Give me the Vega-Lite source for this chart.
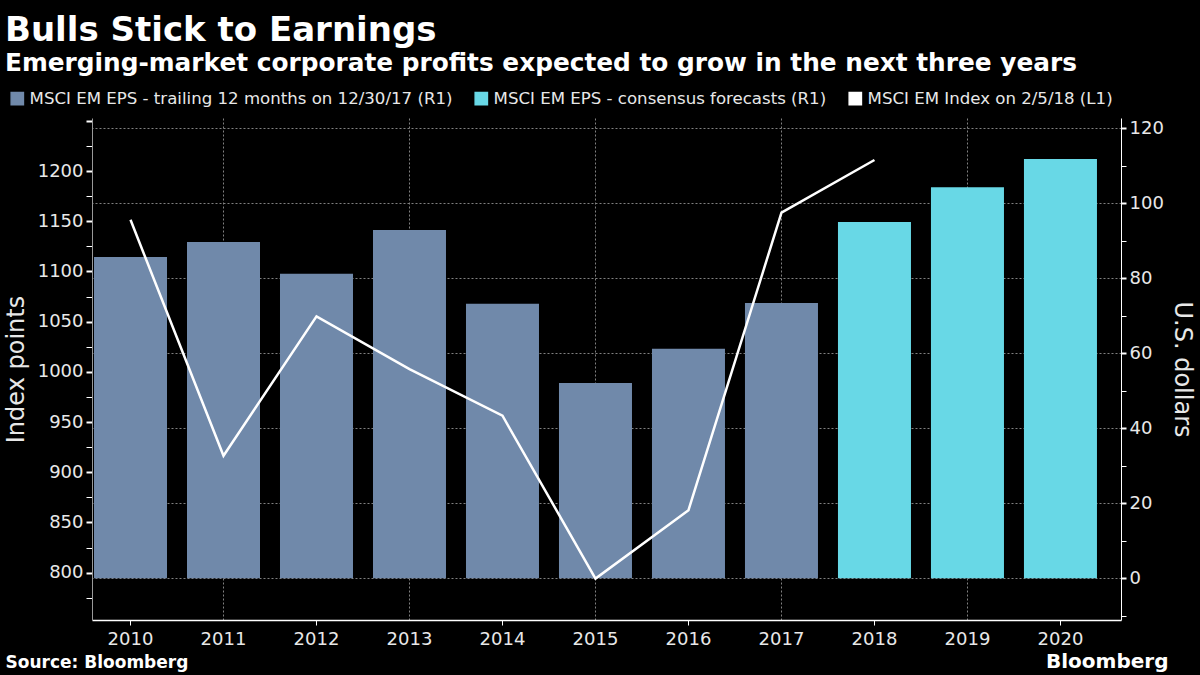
{
  "$schema": "https://vega.github.io/schema/vega-lite/v6.json",
  "width": 1029,
  "height": 502,
  "autosize": "none",
  "padding": {"left": 92, "top": 118, "right": 79, "bottom": 55},
  "background": "#000000",
  "config": {
    "view": {"stroke": null},
    "font": "DejaVu Sans",
    "axis": {
      "labelFont": "DejaVu Sans",
      "titleFont": "DejaVu Sans",
      "labelColor": "#e8e8e8",
      "titleColor": "#e8e8e8",
      "labelFontSize": 18,
      "titleFontSize": 24,
      "titleFontWeight": "normal",
      "tickColor": "#ffffff"
    },
    "legend": {
      "orient": "none",
      "legendX": -83,
      "legendY": -28,
      "direction": "horizontal",
      "symbolType": "square",
      "symbolSize": 150,
      "labelFont": "DejaVu Sans",
      "labelFontSize": 16.6,
      "labelColor": "#e8e8e8",
      "labelLimit": 0,
      "columnPadding": 19,
      "labelOffset": 4,
      "padding": 0
    }
  },
  "title": {
    "text": "Bulls Stick to Earnings",
    "subtitle": "Emerging-market corporate profits expected to grow in the next three years",
    "anchor": "start",
    "frame": "group",
    "dx": -87,
    "offset": 14,
    "font": "DejaVu Sans",
    "fontSize": 34,
    "fontWeight": "bold",
    "color": "#ffffff",
    "subtitleFont": "DejaVu Sans",
    "subtitleFontSize": 24.8,
    "subtitleFontWeight": "bold",
    "subtitleColor": "#ffffff",
    "subtitlePadding": 3
  },
  "data": {
    "values": [
      {"year": "2010", "eps": 85.7, "series": "MSCI EM EPS - trailing 12 months on 12/30/17 (R1)", "index": 1151.4},
      {"year": "2011", "eps": 89.7, "series": "MSCI EM EPS - trailing 12 months on 12/30/17 (R1)", "index": 916.4},
      {"year": "2012", "eps": 81.2, "series": "MSCI EM EPS - trailing 12 months on 12/30/17 (R1)", "index": 1055.2},
      {"year": "2013", "eps": 92.9, "series": "MSCI EM EPS - trailing 12 months on 12/30/17 (R1)", "index": 1002.7},
      {"year": "2014", "eps": 73.2, "series": "MSCI EM EPS - trailing 12 months on 12/30/17 (R1)", "index": 956.3},
      {"year": "2015", "eps": 52.1, "series": "MSCI EM EPS - trailing 12 months on 12/30/17 (R1)", "index": 794.1},
      {"year": "2016", "eps": 61.2, "series": "MSCI EM EPS - trailing 12 months on 12/30/17 (R1)", "index": 862.3},
      {"year": "2017", "eps": 73.4, "series": "MSCI EM EPS - trailing 12 months on 12/30/17 (R1)", "index": 1158.5},
      {"year": "2018", "eps": 95.0, "series": "MSCI EM EPS - consensus forecasts (R1)", "index": 1211.0},
      {"year": "2019", "eps": 104.3, "series": "MSCI EM EPS - consensus forecasts (R1)", "index": null},
      {"year": "2020", "eps": 111.8, "series": "MSCI EM EPS - consensus forecasts (R1)", "index": null}
    ]
  },
  "encoding": {
    "x": {
      "field": "year",
      "type": "ordinal",
      "scale": {"type": "band", "paddingInner": 0.215, "paddingOuter": 0.14, "align": 0.077},
      "axis": {
        "title": "Source: Bloomberg",
        "titleAnchor": "start",
        "titleAlign": "left",
        "titleBaseline": "alphabetic",
        "titleX": -87,
        "titleY": 47,
        "titleFontSize": 17,
        "titleFontWeight": "bold",
        "titleColor": "#ffffff",
        "labelAngle": 0,
        "labelFontSize": 18,
        "labelPadding": 5,
        "tickSize": 5,
        "tickColor": "#ffffff",
        "tickOpacity": {"condition": {"test": "toNumber(datum.value) % 2 == 0", "value": 1}, "value": 0},
        "grid": true,
        "gridColor": "#808080",
        "gridDash": [2, 2],
        "gridOpacity": {"condition": {"test": "toNumber(datum.value) % 2 == 1", "value": 1}, "value": 0},
        "domainColor": "#ffffff",
        "domainWidth": 1.5,
        "bandPosition": 0.5
      }
    }
  },
  "layer": [
    {
      "mark": {"type": "bar"},
      "encoding": {
        "y": {
          "field": "eps",
          "type": "quantitative",
          "scale": {"domain": [-11.12, 122.75], "nice": false, "zero": false},
          "axis": {
            "orient": "right",
            "values": [-10, 0, 10, 20, 30, 40, 50, 60, 70, 80, 90, 100, 110, 120],
            "format": "d",
            "labelExpr": "(datum.value % 20 == 0 && datum.value >= 0) ? datum.label : ''",
            "labelOverlap": false,
            "grid": true,
            "gridColor": "#808080",
            "gridDash": [2, 2],
            "gridOpacity": {"condition": {"test": "datum.value % 20 == 0 && datum.value >= 0", "value": 1}, "value": 0},
            "tickSize": 5,
            "tickWidth": {"condition": {"test": "datum.value % 20 == 0", "value": 2}, "value": 1},
            "domainColor": "#ffffff",
            "labelPadding": 3,
            "title": "U.S. dollars",
            "titlePadding": 6
          }
        },
        "y2": {"datum": 0},
        "color": {
          "field": "series",
          "type": "nominal",
          "scale": {
            "domain": ["MSCI EM EPS - trailing 12 months on 12/30/17 (R1)", "MSCI EM EPS - consensus forecasts (R1)", "MSCI EM Index on 2/5/18 (L1)"],
            "range": ["#7089aa", "#68d8e6", "#ffffff"]
          },
          "legend": {"title": null}
        }
      }
    },
    {
      "transform": [{"filter": "datum.index != null"}],
      "mark": {"type": "line", "strokeWidth": 2.5},
      "encoding": {
        "y": {
          "field": "index",
          "type": "quantitative",
          "scale": {"domain": [752.9, 1252.8], "nice": false, "zero": false},
          "axis": {
            "orient": "left",
            "values": [775, 800, 825, 850, 875, 900, 925, 950, 975, 1000, 1025, 1050, 1075, 1100, 1125, 1150, 1175, 1200, 1225, 1250],
            "format": "d",
            "labelExpr": "(datum.value % 50 == 0 && datum.value >= 800 && datum.value <= 1200) ? datum.label : ''",
            "labelOverlap": false,
            "grid": false,
            "domainColor": "#999999",
            "tickSize": 6,
            "tickWidth": {"condition": {"test": "datum.value % 50 == 0", "value": 2}, "value": 1},
            "labelPadding": 3,
            "title": "Index points",
            "titlePadding": 9
          }
        },
        "color": {"datum": "MSCI EM Index on 2/5/18 (L1)"}
      }
    },
    {
      "data": {"values": [{"label": "Bloomberg", "year": "2020", "pos": -24}]},
      "mark": {"type": "text", "align": "right", "baseline": "alphabetic", "dx": 108, "font": "DejaVu Sans", "fontSize": 20, "fontWeight": "bold", "color": "#ffffff"},
      "encoding": {
        "x": {"field": "year", "type": "ordinal"},
        "y": {"field": "pos", "type": "quantitative", "scale": {"domain": [-11.12, 122.75], "nice": false, "zero": false}, "axis": null},
        "text": {"field": "label"}
      }
    }
  ],
  "resolve": {"scale": {"y": "independent"}}
}
